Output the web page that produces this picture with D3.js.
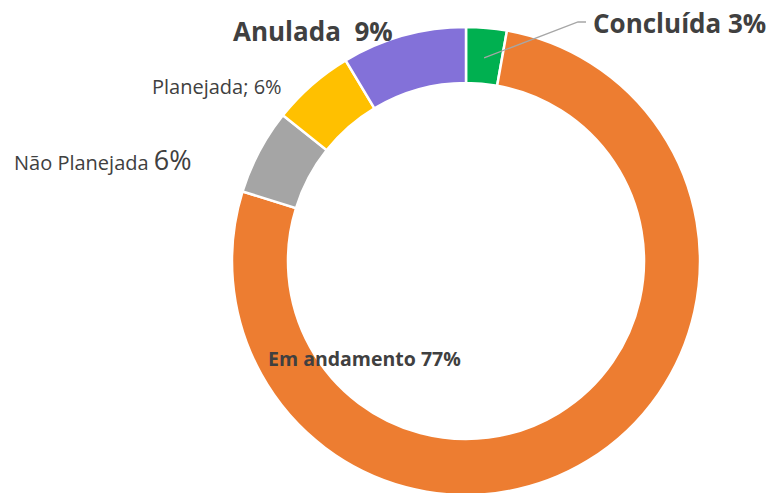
<!DOCTYPE html>
<html>
<head>
<meta charset="utf-8">
<script src="https://cdn.jsdelivr.net/npm/d3@7"></script>
<style>
  body { margin: 0; background: #fff; }
  text { font-family: "Open Sans", "Liberation Sans", sans-serif; fill: #404040; }
</style>
</head>
<body>
<div id="chart"></div>
<script>
// Data (clockwise from 12 o'clock)
const categories = ["Concluída", "Em andamento", "Não Planejada", "Planejada", "Anulada"];
const values = [2.8, 77, 5.9, 5.7, 8.6];
const colors = ["#00b050", "#ed7d31", "#a5a5a5", "#ffc000", "#8371d9"];

const width = 771, height = 493;
const cx = 466, cy = 261;
const outerR = 234, innerR = 178;

const svg = d3.select("#chart")
    .append("svg")
    .attr("width", width)
    .attr("height", height);

const g = svg.append("g")
    .attr("transform", `translate(${cx}, ${cy})`);

const pie = d3.pie().sort(null).value(d => d.value);
const arc = d3.arc().innerRadius(innerR).outerRadius(outerR);

const data = categories.map((c, i) => ({ name: c, value: values[i], color: colors[i] }));
const arcs = pie(data);

g.selectAll("path.slice")
    .data(arcs)
    .join("path")
    .attr("class", "slice")
    .attr("d", arc)
    .attr("fill", d => d.data.color)
    .attr("stroke", "#fff")
    .attr("stroke-width", 2.5);

const total = d3.sum(values);
const pct = v => Math.round(v / total * 100) + "%";

// Leader line for Concluída
const mid = arc.centroid(arcs[0]);
g.append("polyline")
    .attr("points", [[mid[0], mid[1] + 2], [112, -239], [120, -239]].map(p => p.join(",")).join(" "))
    .attr("fill", "none")
    .attr("stroke", "#a6a6a6")
    .attr("stroke-width", 1.3);

// Labels
svg.append("text")
    .attr("x", 593).attr("y", 33)
    .style("font-size", "26px").style("font-weight", "bold")
    .text(`${categories[0]} ${pct(values[0])}`);

svg.append("text")
    .attr("x", 233).attr("y", 41)
    .style("font-size", "26px").style("font-weight", "bold")
    .attr("xml:space", "preserve")
    .text(`${categories[4]}  ${pct(values[4])}`);

svg.append("text")
    .attr("x", 152).attr("y", 94)
    .style("font-size", "20px")
    .text(`${categories[3]}; ${pct(values[3])}`);

const np = svg.append("text")
    .attr("x", 14).attr("y", 170)
    .style("font-size", "20px");
np.append("tspan").text(categories[2] + " ");
np.append("tspan").style("font-size", "27px").text(pct(values[2]));

svg.append("text")
    .attr("x", 268).attr("y", 366)
    .style("font-size", "19.5px").style("font-weight", "bold")
    .text(`${categories[1]} ${pct(values[1])}`);
</script>
</body>
</html>
